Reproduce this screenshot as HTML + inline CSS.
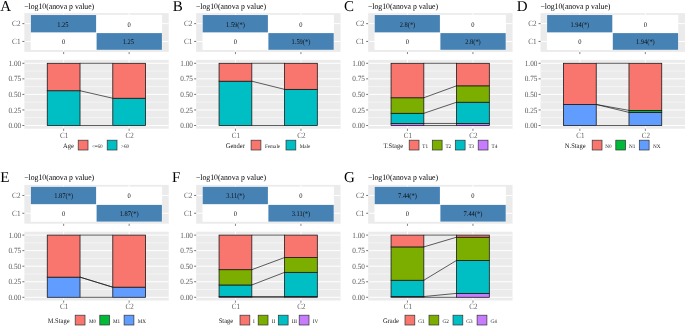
<!DOCTYPE html>
<html><head><meta charset="utf-8"><style>
html,body{margin:0;padding:0;background:#fff;}
svg{display:block;font-family:"Liberation Serif",serif;will-change:transform;text-rendering:geometricPrecision;}
</style></head><body>
<svg width="685" height="326" viewBox="0 0 685 326">
<rect width="685" height="326" fill="#fff"/>
<text x="0.3" y="10.8" font-size="15" fill="#000">A</text>
<text x="24.2" y="8.6" font-size="8.4" fill="#000" textLength="70" lengthAdjust="spacingAndGlyphs">−log10(anova p value)</text>
<rect x="24.35" y="13.1" width="144.4" height="38.8" fill="#EBEBEB"/>
<line x1="63.65" y1="13.1" x2="63.65" y2="51.9" stroke="#fff" stroke-width="1"/>
<line x1="129.15" y1="13.1" x2="129.15" y2="51.9" stroke="#fff" stroke-width="1"/>
<line x1="24.35" y1="23.65" x2="168.75" y2="23.65" stroke="#fff" stroke-width="1"/>
<line x1="24.35" y1="41.45" x2="168.75" y2="41.45" stroke="#fff" stroke-width="1"/>
<rect x="30.7" y="14.85" width="131.4" height="35.15" fill="#fff"/>
<rect x="30.9" y="15.05" width="65.2" height="17.32" fill="#4682B4"/>
<rect x="96.6" y="33.1" width="65.3" height="16.7" fill="#4682B4"/>
<text transform="translate(62.85 26.65) scale(0.91 1)" font-size="7.1" fill="#111" text-anchor="middle">1.25</text>
<text transform="translate(129.15 26.65) scale(0.91 1)" font-size="7.1" fill="#111" text-anchor="middle">0</text>
<text transform="translate(63.65 44.45) scale(0.91 1)" font-size="7.1" fill="#111" text-anchor="middle">0</text>
<text transform="translate(128.35 44.45) scale(0.91 1)" font-size="7.1" fill="#111" text-anchor="middle">1.25</text>
<text transform="translate(20.5 26.4) scale(0.9 1)" font-size="8.0" fill="#5A5A5A" text-anchor="end">C2</text>
<line x1="22.4" y1="23.65" x2="24.35" y2="23.65" stroke="#333333" stroke-width="0.7"/>
<text transform="translate(20.5 44.2) scale(0.9 1)" font-size="8.0" fill="#5A5A5A" text-anchor="end">C1</text>
<line x1="22.4" y1="41.45" x2="24.35" y2="41.45" stroke="#333333" stroke-width="0.7"/>
<line x1="63.65" y1="51.9" x2="63.65" y2="54.1" stroke="#333333" stroke-width="0.6"/>
<line x1="129.15" y1="51.9" x2="129.15" y2="54.1" stroke="#333333" stroke-width="0.6"/>
<rect x="24.35" y="59.9" width="144.4" height="68.8" fill="#EBEBEB"/>
<line x1="24.35" y1="117.72" x2="168.75" y2="117.72" stroke="#fff" stroke-width="0.5"/>
<line x1="24.35" y1="102.17" x2="168.75" y2="102.17" stroke="#fff" stroke-width="0.5"/>
<line x1="24.35" y1="86.62" x2="168.75" y2="86.62" stroke="#fff" stroke-width="0.5"/>
<line x1="24.35" y1="71.07" x2="168.75" y2="71.07" stroke="#fff" stroke-width="0.5"/>
<line x1="24.35" y1="125.5" x2="168.75" y2="125.5" stroke="#fff" stroke-width="1"/>
<line x1="24.35" y1="109.95" x2="168.75" y2="109.95" stroke="#fff" stroke-width="1"/>
<line x1="24.35" y1="94.4" x2="168.75" y2="94.4" stroke="#fff" stroke-width="1"/>
<line x1="24.35" y1="78.85" x2="168.75" y2="78.85" stroke="#fff" stroke-width="1"/>
<line x1="24.35" y1="63.3" x2="168.75" y2="63.3" stroke="#fff" stroke-width="1"/>
<line x1="63.65" y1="59.9" x2="63.65" y2="128.7" stroke="#fff" stroke-width="1"/>
<line x1="129.15" y1="59.9" x2="129.15" y2="128.7" stroke="#fff" stroke-width="1"/>
<rect x="47.27" y="90.73" width="32.75" height="34.77" fill="#00BFC4" stroke="#1a1a1a" stroke-width="0.8"/>
<rect x="47.27" y="63.3" width="32.75" height="27.43" fill="#F8766D" stroke="#1a1a1a" stroke-width="0.8"/>
<rect x="112.78" y="98.26" width="32.75" height="27.24" fill="#00BFC4" stroke="#1a1a1a" stroke-width="0.8"/>
<rect x="112.78" y="63.3" width="32.75" height="34.96" fill="#F8766D" stroke="#1a1a1a" stroke-width="0.8"/>
<line x1="80.03" y1="125.5" x2="112.78" y2="125.5" stroke="#1a1a1a" stroke-width="0.7"/>
<line x1="80.03" y1="90.73" x2="112.78" y2="98.26" stroke="#1a1a1a" stroke-width="0.7"/>
<line x1="80.03" y1="63.3" x2="112.78" y2="63.3" stroke="#1a1a1a" stroke-width="0.7"/>
<text transform="translate(21.2 128.1) scale(0.92 1)" font-size="7.9" fill="#5A5A5A" text-anchor="end">0.00</text>
<line x1="22.4" y1="125.5" x2="24.35" y2="125.5" stroke="#333333" stroke-width="0.7"/>
<text transform="translate(21.2 112.55) scale(0.92 1)" font-size="7.9" fill="#5A5A5A" text-anchor="end">0.25</text>
<line x1="22.4" y1="109.95" x2="24.35" y2="109.95" stroke="#333333" stroke-width="0.7"/>
<text transform="translate(21.2 97) scale(0.92 1)" font-size="7.9" fill="#5A5A5A" text-anchor="end">0.50</text>
<line x1="22.4" y1="94.4" x2="24.35" y2="94.4" stroke="#333333" stroke-width="0.7"/>
<text transform="translate(21.2 81.45) scale(0.92 1)" font-size="7.9" fill="#5A5A5A" text-anchor="end">0.75</text>
<line x1="22.4" y1="78.85" x2="24.35" y2="78.85" stroke="#333333" stroke-width="0.7"/>
<text transform="translate(21.2 65.9) scale(0.92 1)" font-size="7.9" fill="#5A5A5A" text-anchor="end">1.00</text>
<line x1="22.4" y1="63.3" x2="24.35" y2="63.3" stroke="#333333" stroke-width="0.7"/>
<line x1="63.65" y1="128.7" x2="63.65" y2="130.9" stroke="#333333" stroke-width="0.6"/>
<text transform="translate(64.15 137.9) scale(0.88 1)" font-size="8.0" fill="#5A5A5A" text-anchor="middle">C1</text>
<line x1="129.15" y1="128.7" x2="129.15" y2="130.9" stroke="#333333" stroke-width="0.6"/>
<text transform="translate(129.65 137.9) scale(0.88 1)" font-size="8.0" fill="#5A5A5A" text-anchor="middle">C2</text>
<text transform="translate(63.1 147.9) scale(0.93 1)" font-size="7.0" fill="#1a1a1a">Age</text>
<rect x="78.2" y="140.2" width="9.8" height="9.8" fill="#F8766D" stroke="#333" stroke-width="0.7"/>
<text transform="translate(91.7 147.5) scale(0.96 1)" font-size="5.4" fill="#1a1a1a">&lt;=60</text>
<rect x="107.2" y="140.2" width="9.8" height="9.8" fill="#00BFC4" stroke="#333" stroke-width="0.7"/>
<text transform="translate(121.1 147.5) scale(0.96 1)" font-size="5.4" fill="#1a1a1a">&gt;60</text>
<text x="172.8" y="10.8" font-size="15" fill="#000">B</text>
<text x="196" y="8.6" font-size="8.4" fill="#000" textLength="70" lengthAdjust="spacingAndGlyphs">−log10(anova p value)</text>
<rect x="196.15" y="13.1" width="144.4" height="38.8" fill="#EBEBEB"/>
<line x1="235.45" y1="13.1" x2="235.45" y2="51.9" stroke="#fff" stroke-width="1"/>
<line x1="300.95" y1="13.1" x2="300.95" y2="51.9" stroke="#fff" stroke-width="1"/>
<line x1="196.15" y1="23.65" x2="340.55" y2="23.65" stroke="#fff" stroke-width="1"/>
<line x1="196.15" y1="41.45" x2="340.55" y2="41.45" stroke="#fff" stroke-width="1"/>
<rect x="202.5" y="14.85" width="131.4" height="35.15" fill="#fff"/>
<rect x="202.7" y="15.05" width="65.2" height="17.32" fill="#4682B4"/>
<rect x="268.4" y="33.1" width="65.3" height="16.7" fill="#4682B4"/>
<text transform="translate(235.45 26.65) scale(0.91 1)" font-size="7.1" fill="#111" text-anchor="middle">1.59(*)</text>
<text transform="translate(300.95 26.65) scale(0.91 1)" font-size="7.1" fill="#111" text-anchor="middle">0</text>
<text transform="translate(235.45 44.45) scale(0.91 1)" font-size="7.1" fill="#111" text-anchor="middle">0</text>
<text transform="translate(300.95 44.45) scale(0.91 1)" font-size="7.1" fill="#111" text-anchor="middle">1.59(*)</text>
<text transform="translate(192.3 26.4) scale(0.9 1)" font-size="8.0" fill="#5A5A5A" text-anchor="end">C2</text>
<line x1="194.2" y1="23.65" x2="196.15" y2="23.65" stroke="#333333" stroke-width="0.7"/>
<text transform="translate(192.3 44.2) scale(0.9 1)" font-size="8.0" fill="#5A5A5A" text-anchor="end">C1</text>
<line x1="194.2" y1="41.45" x2="196.15" y2="41.45" stroke="#333333" stroke-width="0.7"/>
<line x1="235.45" y1="51.9" x2="235.45" y2="54.1" stroke="#333333" stroke-width="0.6"/>
<line x1="300.95" y1="51.9" x2="300.95" y2="54.1" stroke="#333333" stroke-width="0.6"/>
<rect x="196.15" y="59.9" width="144.4" height="68.8" fill="#EBEBEB"/>
<line x1="196.15" y1="117.72" x2="340.55" y2="117.72" stroke="#fff" stroke-width="0.5"/>
<line x1="196.15" y1="102.17" x2="340.55" y2="102.17" stroke="#fff" stroke-width="0.5"/>
<line x1="196.15" y1="86.62" x2="340.55" y2="86.62" stroke="#fff" stroke-width="0.5"/>
<line x1="196.15" y1="71.07" x2="340.55" y2="71.07" stroke="#fff" stroke-width="0.5"/>
<line x1="196.15" y1="125.5" x2="340.55" y2="125.5" stroke="#fff" stroke-width="1"/>
<line x1="196.15" y1="109.95" x2="340.55" y2="109.95" stroke="#fff" stroke-width="1"/>
<line x1="196.15" y1="94.4" x2="340.55" y2="94.4" stroke="#fff" stroke-width="1"/>
<line x1="196.15" y1="78.85" x2="340.55" y2="78.85" stroke="#fff" stroke-width="1"/>
<line x1="196.15" y1="63.3" x2="340.55" y2="63.3" stroke="#fff" stroke-width="1"/>
<line x1="235.45" y1="59.9" x2="235.45" y2="128.7" stroke="#fff" stroke-width="1"/>
<line x1="300.95" y1="59.9" x2="300.95" y2="128.7" stroke="#fff" stroke-width="1"/>
<rect x="219.07" y="81.21" width="32.75" height="44.29" fill="#00BFC4" stroke="#1a1a1a" stroke-width="0.8"/>
<rect x="219.07" y="63.3" width="32.75" height="17.91" fill="#F8766D" stroke="#1a1a1a" stroke-width="0.8"/>
<rect x="284.57" y="89.36" width="32.75" height="36.14" fill="#00BFC4" stroke="#1a1a1a" stroke-width="0.8"/>
<rect x="284.57" y="63.3" width="32.75" height="26.06" fill="#F8766D" stroke="#1a1a1a" stroke-width="0.8"/>
<line x1="251.82" y1="125.5" x2="284.57" y2="125.5" stroke="#1a1a1a" stroke-width="0.7"/>
<line x1="251.82" y1="81.21" x2="284.57" y2="89.36" stroke="#1a1a1a" stroke-width="0.7"/>
<line x1="251.82" y1="63.3" x2="284.57" y2="63.3" stroke="#1a1a1a" stroke-width="0.7"/>
<text transform="translate(193 128.1) scale(0.92 1)" font-size="7.9" fill="#5A5A5A" text-anchor="end">0.00</text>
<line x1="194.2" y1="125.5" x2="196.15" y2="125.5" stroke="#333333" stroke-width="0.7"/>
<text transform="translate(193 112.55) scale(0.92 1)" font-size="7.9" fill="#5A5A5A" text-anchor="end">0.25</text>
<line x1="194.2" y1="109.95" x2="196.15" y2="109.95" stroke="#333333" stroke-width="0.7"/>
<text transform="translate(193 97) scale(0.92 1)" font-size="7.9" fill="#5A5A5A" text-anchor="end">0.50</text>
<line x1="194.2" y1="94.4" x2="196.15" y2="94.4" stroke="#333333" stroke-width="0.7"/>
<text transform="translate(193 81.45) scale(0.92 1)" font-size="7.9" fill="#5A5A5A" text-anchor="end">0.75</text>
<line x1="194.2" y1="78.85" x2="196.15" y2="78.85" stroke="#333333" stroke-width="0.7"/>
<text transform="translate(193 65.9) scale(0.92 1)" font-size="7.9" fill="#5A5A5A" text-anchor="end">1.00</text>
<line x1="194.2" y1="63.3" x2="196.15" y2="63.3" stroke="#333333" stroke-width="0.7"/>
<line x1="235.45" y1="128.7" x2="235.45" y2="130.9" stroke="#333333" stroke-width="0.6"/>
<text transform="translate(235.95 137.9) scale(0.88 1)" font-size="8.0" fill="#5A5A5A" text-anchor="middle">C1</text>
<line x1="300.95" y1="128.7" x2="300.95" y2="130.9" stroke="#333333" stroke-width="0.6"/>
<text transform="translate(301.45 137.9) scale(0.88 1)" font-size="8.0" fill="#5A5A5A" text-anchor="middle">C2</text>
<text transform="translate(225.7 147.9) scale(0.93 1)" font-size="7.0" fill="#1a1a1a">Gender</text>
<rect x="251.1" y="140.2" width="9.8" height="9.8" fill="#F8766D" stroke="#333" stroke-width="0.7"/>
<text transform="translate(264.9 147.5) scale(0.96 1)" font-size="5.4" fill="#1a1a1a">Female</text>
<rect x="286" y="140.2" width="9.8" height="9.8" fill="#00BFC4" stroke="#333" stroke-width="0.7"/>
<text transform="translate(299.7 147.5) scale(0.96 1)" font-size="5.4" fill="#1a1a1a">Male</text>
<text x="344.1" y="10.8" font-size="15" fill="#000">C</text>
<text x="368" y="8.6" font-size="8.4" fill="#000" textLength="70" lengthAdjust="spacingAndGlyphs">−log10(anova p value)</text>
<rect x="368.15" y="13.1" width="144.4" height="38.8" fill="#EBEBEB"/>
<line x1="407.45" y1="13.1" x2="407.45" y2="51.9" stroke="#fff" stroke-width="1"/>
<line x1="472.95" y1="13.1" x2="472.95" y2="51.9" stroke="#fff" stroke-width="1"/>
<line x1="368.15" y1="23.65" x2="512.55" y2="23.65" stroke="#fff" stroke-width="1"/>
<line x1="368.15" y1="41.45" x2="512.55" y2="41.45" stroke="#fff" stroke-width="1"/>
<rect x="374.5" y="14.85" width="131.4" height="35.15" fill="#fff"/>
<rect x="374.7" y="15.05" width="65.2" height="17.32" fill="#4682B4"/>
<rect x="440.4" y="33.1" width="65.3" height="16.7" fill="#4682B4"/>
<text transform="translate(407.45 26.65) scale(0.91 1)" font-size="7.1" fill="#111" text-anchor="middle">2.8(*)</text>
<text transform="translate(472.95 26.65) scale(0.91 1)" font-size="7.1" fill="#111" text-anchor="middle">0</text>
<text transform="translate(407.45 44.45) scale(0.91 1)" font-size="7.1" fill="#111" text-anchor="middle">0</text>
<text transform="translate(472.95 44.45) scale(0.91 1)" font-size="7.1" fill="#111" text-anchor="middle">2.8(*)</text>
<text transform="translate(364.3 26.4) scale(0.9 1)" font-size="8.0" fill="#5A5A5A" text-anchor="end">C2</text>
<line x1="366.2" y1="23.65" x2="368.15" y2="23.65" stroke="#333333" stroke-width="0.7"/>
<text transform="translate(364.3 44.2) scale(0.9 1)" font-size="8.0" fill="#5A5A5A" text-anchor="end">C1</text>
<line x1="366.2" y1="41.45" x2="368.15" y2="41.45" stroke="#333333" stroke-width="0.7"/>
<line x1="407.45" y1="51.9" x2="407.45" y2="54.1" stroke="#333333" stroke-width="0.6"/>
<line x1="472.95" y1="51.9" x2="472.95" y2="54.1" stroke="#333333" stroke-width="0.6"/>
<rect x="368.15" y="59.9" width="144.4" height="68.8" fill="#EBEBEB"/>
<line x1="368.15" y1="117.72" x2="512.55" y2="117.72" stroke="#fff" stroke-width="0.5"/>
<line x1="368.15" y1="102.17" x2="512.55" y2="102.17" stroke="#fff" stroke-width="0.5"/>
<line x1="368.15" y1="86.62" x2="512.55" y2="86.62" stroke="#fff" stroke-width="0.5"/>
<line x1="368.15" y1="71.07" x2="512.55" y2="71.07" stroke="#fff" stroke-width="0.5"/>
<line x1="368.15" y1="125.5" x2="512.55" y2="125.5" stroke="#fff" stroke-width="1"/>
<line x1="368.15" y1="109.95" x2="512.55" y2="109.95" stroke="#fff" stroke-width="1"/>
<line x1="368.15" y1="94.4" x2="512.55" y2="94.4" stroke="#fff" stroke-width="1"/>
<line x1="368.15" y1="78.85" x2="512.55" y2="78.85" stroke="#fff" stroke-width="1"/>
<line x1="368.15" y1="63.3" x2="512.55" y2="63.3" stroke="#fff" stroke-width="1"/>
<line x1="407.45" y1="59.9" x2="407.45" y2="128.7" stroke="#fff" stroke-width="1"/>
<line x1="472.95" y1="59.9" x2="472.95" y2="128.7" stroke="#fff" stroke-width="1"/>
<rect x="391.07" y="123.45" width="32.75" height="2.05" fill="#C77CFF" stroke="#1a1a1a" stroke-width="0.8"/>
<rect x="391.07" y="113.31" width="32.75" height="10.14" fill="#00BFC4" stroke="#1a1a1a" stroke-width="0.8"/>
<rect x="391.07" y="97.76" width="32.75" height="15.55" fill="#7CAE00" stroke="#1a1a1a" stroke-width="0.8"/>
<rect x="391.07" y="63.3" width="32.75" height="34.46" fill="#F8766D" stroke="#1a1a1a" stroke-width="0.8"/>
<rect x="456.57" y="123.45" width="32.75" height="2.05" fill="#C77CFF" stroke="#1a1a1a" stroke-width="0.8"/>
<rect x="456.57" y="102.24" width="32.75" height="21.21" fill="#00BFC4" stroke="#1a1a1a" stroke-width="0.8"/>
<rect x="456.57" y="85.82" width="32.75" height="16.42" fill="#7CAE00" stroke="#1a1a1a" stroke-width="0.8"/>
<rect x="456.57" y="63.3" width="32.75" height="22.52" fill="#F8766D" stroke="#1a1a1a" stroke-width="0.8"/>
<line x1="423.82" y1="125.5" x2="456.57" y2="125.5" stroke="#1a1a1a" stroke-width="0.7"/>
<line x1="423.82" y1="123.45" x2="456.57" y2="123.45" stroke="#1a1a1a" stroke-width="0.7"/>
<line x1="423.82" y1="113.31" x2="456.57" y2="102.24" stroke="#1a1a1a" stroke-width="0.7"/>
<line x1="423.82" y1="97.76" x2="456.57" y2="85.82" stroke="#1a1a1a" stroke-width="0.7"/>
<line x1="423.82" y1="63.3" x2="456.57" y2="63.3" stroke="#1a1a1a" stroke-width="0.7"/>
<text transform="translate(365 128.1) scale(0.92 1)" font-size="7.9" fill="#5A5A5A" text-anchor="end">0.00</text>
<line x1="366.2" y1="125.5" x2="368.15" y2="125.5" stroke="#333333" stroke-width="0.7"/>
<text transform="translate(365 112.55) scale(0.92 1)" font-size="7.9" fill="#5A5A5A" text-anchor="end">0.25</text>
<line x1="366.2" y1="109.95" x2="368.15" y2="109.95" stroke="#333333" stroke-width="0.7"/>
<text transform="translate(365 97) scale(0.92 1)" font-size="7.9" fill="#5A5A5A" text-anchor="end">0.50</text>
<line x1="366.2" y1="94.4" x2="368.15" y2="94.4" stroke="#333333" stroke-width="0.7"/>
<text transform="translate(365 81.45) scale(0.92 1)" font-size="7.9" fill="#5A5A5A" text-anchor="end">0.75</text>
<line x1="366.2" y1="78.85" x2="368.15" y2="78.85" stroke="#333333" stroke-width="0.7"/>
<text transform="translate(365 65.9) scale(0.92 1)" font-size="7.9" fill="#5A5A5A" text-anchor="end">1.00</text>
<line x1="366.2" y1="63.3" x2="368.15" y2="63.3" stroke="#333333" stroke-width="0.7"/>
<line x1="407.45" y1="128.7" x2="407.45" y2="130.9" stroke="#333333" stroke-width="0.6"/>
<text transform="translate(407.95 137.9) scale(0.88 1)" font-size="8.0" fill="#5A5A5A" text-anchor="middle">C1</text>
<line x1="472.95" y1="128.7" x2="472.95" y2="130.9" stroke="#333333" stroke-width="0.6"/>
<text transform="translate(473.45 137.9) scale(0.88 1)" font-size="8.0" fill="#5A5A5A" text-anchor="middle">C2</text>
<text transform="translate(383.5 147.9) scale(0.93 1)" font-size="7.0" fill="#1a1a1a">T.Stage</text>
<rect x="409.2" y="140.2" width="9.8" height="9.8" fill="#F8766D" stroke="#333" stroke-width="0.7"/>
<text transform="translate(422.3 147.5) scale(0.96 1)" font-size="5.4" fill="#1a1a1a">T1</text>
<rect x="432.3" y="140.2" width="9.8" height="9.8" fill="#7CAE00" stroke="#333" stroke-width="0.7"/>
<text transform="translate(445.4 147.5) scale(0.96 1)" font-size="5.4" fill="#1a1a1a">T2</text>
<rect x="455.3" y="140.2" width="9.8" height="9.8" fill="#00BFC4" stroke="#333" stroke-width="0.7"/>
<text transform="translate(468.4 147.5) scale(0.96 1)" font-size="5.4" fill="#1a1a1a">T3</text>
<rect x="478.2" y="140.2" width="9.8" height="9.8" fill="#C77CFF" stroke="#333" stroke-width="0.7"/>
<text transform="translate(491.6 147.5) scale(0.96 1)" font-size="5.4" fill="#1a1a1a">T4</text>
<text x="516.7" y="10.8" font-size="15" fill="#000">D</text>
<text x="540.4" y="8.6" font-size="8.4" fill="#000" textLength="70" lengthAdjust="spacingAndGlyphs">−log10(anova p value)</text>
<rect x="540.55" y="13.1" width="145.45" height="38.8" fill="#EBEBEB"/>
<line x1="579.85" y1="13.1" x2="579.85" y2="51.9" stroke="#fff" stroke-width="1"/>
<line x1="645.35" y1="13.1" x2="645.35" y2="51.9" stroke="#fff" stroke-width="1"/>
<line x1="540.55" y1="23.65" x2="686" y2="23.65" stroke="#fff" stroke-width="1"/>
<line x1="540.55" y1="41.45" x2="686" y2="41.45" stroke="#fff" stroke-width="1"/>
<rect x="546.9" y="14.85" width="131.4" height="35.15" fill="#fff"/>
<rect x="547.1" y="15.05" width="65.2" height="17.32" fill="#4682B4"/>
<rect x="612.8" y="33.1" width="65.3" height="16.7" fill="#4682B4"/>
<text transform="translate(579.85 26.65) scale(0.91 1)" font-size="7.1" fill="#111" text-anchor="middle">1.94(*)</text>
<text transform="translate(645.35 26.65) scale(0.91 1)" font-size="7.1" fill="#111" text-anchor="middle">0</text>
<text transform="translate(579.85 44.45) scale(0.91 1)" font-size="7.1" fill="#111" text-anchor="middle">0</text>
<text transform="translate(645.35 44.45) scale(0.91 1)" font-size="7.1" fill="#111" text-anchor="middle">1.94(*)</text>
<text transform="translate(536.7 26.4) scale(0.9 1)" font-size="8.0" fill="#5A5A5A" text-anchor="end">C2</text>
<line x1="538.6" y1="23.65" x2="540.55" y2="23.65" stroke="#333333" stroke-width="0.7"/>
<text transform="translate(536.7 44.2) scale(0.9 1)" font-size="8.0" fill="#5A5A5A" text-anchor="end">C1</text>
<line x1="538.6" y1="41.45" x2="540.55" y2="41.45" stroke="#333333" stroke-width="0.7"/>
<line x1="579.85" y1="51.9" x2="579.85" y2="54.1" stroke="#333333" stroke-width="0.6"/>
<line x1="645.35" y1="51.9" x2="645.35" y2="54.1" stroke="#333333" stroke-width="0.6"/>
<rect x="540.55" y="59.9" width="145.45" height="68.8" fill="#EBEBEB"/>
<line x1="540.55" y1="117.72" x2="686" y2="117.72" stroke="#fff" stroke-width="0.5"/>
<line x1="540.55" y1="102.17" x2="686" y2="102.17" stroke="#fff" stroke-width="0.5"/>
<line x1="540.55" y1="86.62" x2="686" y2="86.62" stroke="#fff" stroke-width="0.5"/>
<line x1="540.55" y1="71.07" x2="686" y2="71.07" stroke="#fff" stroke-width="0.5"/>
<line x1="540.55" y1="125.5" x2="686" y2="125.5" stroke="#fff" stroke-width="1"/>
<line x1="540.55" y1="109.95" x2="686" y2="109.95" stroke="#fff" stroke-width="1"/>
<line x1="540.55" y1="94.4" x2="686" y2="94.4" stroke="#fff" stroke-width="1"/>
<line x1="540.55" y1="78.85" x2="686" y2="78.85" stroke="#fff" stroke-width="1"/>
<line x1="540.55" y1="63.3" x2="686" y2="63.3" stroke="#fff" stroke-width="1"/>
<line x1="579.85" y1="59.9" x2="579.85" y2="128.7" stroke="#fff" stroke-width="1"/>
<line x1="645.35" y1="59.9" x2="645.35" y2="128.7" stroke="#fff" stroke-width="1"/>
<rect x="563.48" y="104.48" width="32.75" height="21.02" fill="#619CFF" stroke="#1a1a1a" stroke-width="0.8"/>
<rect x="563.48" y="63.3" width="32.75" height="41.18" fill="#F8766D" stroke="#1a1a1a" stroke-width="0.8"/>
<rect x="628.98" y="112.38" width="32.75" height="13.12" fill="#619CFF" stroke="#1a1a1a" stroke-width="0.8"/>
<rect x="628.98" y="110.39" width="32.75" height="1.99" fill="#00BA38" stroke="#1a1a1a" stroke-width="0.8"/>
<rect x="628.98" y="63.3" width="32.75" height="47.09" fill="#F8766D" stroke="#1a1a1a" stroke-width="0.8"/>
<line x1="596.23" y1="125.5" x2="628.98" y2="125.5" stroke="#1a1a1a" stroke-width="0.7"/>
<line x1="596.23" y1="104.48" x2="628.98" y2="112.38" stroke="#1a1a1a" stroke-width="0.7"/>
<line x1="596.23" y1="104.48" x2="628.98" y2="110.39" stroke="#1a1a1a" stroke-width="0.7"/>
<line x1="596.23" y1="63.3" x2="628.98" y2="63.3" stroke="#1a1a1a" stroke-width="0.7"/>
<text transform="translate(537.4 128.1) scale(0.92 1)" font-size="7.9" fill="#5A5A5A" text-anchor="end">0.00</text>
<line x1="538.6" y1="125.5" x2="540.55" y2="125.5" stroke="#333333" stroke-width="0.7"/>
<text transform="translate(537.4 112.55) scale(0.92 1)" font-size="7.9" fill="#5A5A5A" text-anchor="end">0.25</text>
<line x1="538.6" y1="109.95" x2="540.55" y2="109.95" stroke="#333333" stroke-width="0.7"/>
<text transform="translate(537.4 97) scale(0.92 1)" font-size="7.9" fill="#5A5A5A" text-anchor="end">0.50</text>
<line x1="538.6" y1="94.4" x2="540.55" y2="94.4" stroke="#333333" stroke-width="0.7"/>
<text transform="translate(537.4 81.45) scale(0.92 1)" font-size="7.9" fill="#5A5A5A" text-anchor="end">0.75</text>
<line x1="538.6" y1="78.85" x2="540.55" y2="78.85" stroke="#333333" stroke-width="0.7"/>
<text transform="translate(537.4 65.9) scale(0.92 1)" font-size="7.9" fill="#5A5A5A" text-anchor="end">1.00</text>
<line x1="538.6" y1="63.3" x2="540.55" y2="63.3" stroke="#333333" stroke-width="0.7"/>
<line x1="579.85" y1="128.7" x2="579.85" y2="130.9" stroke="#333333" stroke-width="0.6"/>
<text transform="translate(580.35 137.9) scale(0.88 1)" font-size="8.0" fill="#5A5A5A" text-anchor="middle">C1</text>
<line x1="645.35" y1="128.7" x2="645.35" y2="130.9" stroke="#333333" stroke-width="0.6"/>
<text transform="translate(645.85 137.9) scale(0.88 1)" font-size="8.0" fill="#5A5A5A" text-anchor="middle">C2</text>
<text transform="translate(564.8 147.9) scale(0.93 1)" font-size="7.0" fill="#1a1a1a">N.Stage</text>
<rect x="592.2" y="140.2" width="9.8" height="9.8" fill="#F8766D" stroke="#333" stroke-width="0.7"/>
<text transform="translate(605.3 147.5) scale(0.96 1)" font-size="5.4" fill="#1a1a1a">N0</text>
<rect x="615.8" y="140.2" width="9.8" height="9.8" fill="#00BA38" stroke="#333" stroke-width="0.7"/>
<text transform="translate(629 147.5) scale(0.96 1)" font-size="5.4" fill="#1a1a1a">N1</text>
<rect x="639.3" y="140.2" width="9.8" height="9.8" fill="#619CFF" stroke="#333" stroke-width="0.7"/>
<text transform="translate(653 147.5) scale(0.96 1)" font-size="5.4" fill="#1a1a1a">NX</text>
<text x="0.3" y="182.2" font-size="15" fill="#000">E</text>
<text x="24.2" y="180.4" font-size="8.4" fill="#000" textLength="70" lengthAdjust="spacingAndGlyphs">−log10(anova p value)</text>
<rect x="24.35" y="184.9" width="144.4" height="38.8" fill="#EBEBEB"/>
<line x1="63.65" y1="184.9" x2="63.65" y2="223.7" stroke="#fff" stroke-width="1"/>
<line x1="129.15" y1="184.9" x2="129.15" y2="223.7" stroke="#fff" stroke-width="1"/>
<line x1="24.35" y1="195.45" x2="168.75" y2="195.45" stroke="#fff" stroke-width="1"/>
<line x1="24.35" y1="213.25" x2="168.75" y2="213.25" stroke="#fff" stroke-width="1"/>
<rect x="30.7" y="186.65" width="131.4" height="35.15" fill="#fff"/>
<rect x="30.9" y="186.85" width="65.2" height="17.32" fill="#4682B4"/>
<rect x="96.6" y="204.9" width="65.3" height="16.7" fill="#4682B4"/>
<text transform="translate(63.65 198.45) scale(0.91 1)" font-size="7.1" fill="#111" text-anchor="middle">1.87(*)</text>
<text transform="translate(129.15 198.45) scale(0.91 1)" font-size="7.1" fill="#111" text-anchor="middle">0</text>
<text transform="translate(63.65 216.25) scale(0.91 1)" font-size="7.1" fill="#111" text-anchor="middle">0</text>
<text transform="translate(129.15 216.25) scale(0.91 1)" font-size="7.1" fill="#111" text-anchor="middle">1.87(*)</text>
<text transform="translate(20.5 198.2) scale(0.9 1)" font-size="8.0" fill="#5A5A5A" text-anchor="end">C2</text>
<line x1="22.4" y1="195.45" x2="24.35" y2="195.45" stroke="#333333" stroke-width="0.7"/>
<text transform="translate(20.5 216) scale(0.9 1)" font-size="8.0" fill="#5A5A5A" text-anchor="end">C1</text>
<line x1="22.4" y1="213.25" x2="24.35" y2="213.25" stroke="#333333" stroke-width="0.7"/>
<line x1="63.65" y1="223.7" x2="63.65" y2="225.9" stroke="#333333" stroke-width="0.6"/>
<line x1="129.15" y1="223.7" x2="129.15" y2="225.9" stroke="#333333" stroke-width="0.6"/>
<rect x="24.35" y="231.7" width="144.4" height="68.8" fill="#EBEBEB"/>
<line x1="24.35" y1="289.53" x2="168.75" y2="289.53" stroke="#fff" stroke-width="0.5"/>
<line x1="24.35" y1="273.98" x2="168.75" y2="273.98" stroke="#fff" stroke-width="0.5"/>
<line x1="24.35" y1="258.43" x2="168.75" y2="258.43" stroke="#fff" stroke-width="0.5"/>
<line x1="24.35" y1="242.88" x2="168.75" y2="242.88" stroke="#fff" stroke-width="0.5"/>
<line x1="24.35" y1="297.3" x2="168.75" y2="297.3" stroke="#fff" stroke-width="1"/>
<line x1="24.35" y1="281.75" x2="168.75" y2="281.75" stroke="#fff" stroke-width="1"/>
<line x1="24.35" y1="266.2" x2="168.75" y2="266.2" stroke="#fff" stroke-width="1"/>
<line x1="24.35" y1="250.65" x2="168.75" y2="250.65" stroke="#fff" stroke-width="1"/>
<line x1="24.35" y1="235.1" x2="168.75" y2="235.1" stroke="#fff" stroke-width="1"/>
<line x1="63.65" y1="231.7" x2="63.65" y2="300.5" stroke="#fff" stroke-width="1"/>
<line x1="129.15" y1="231.7" x2="129.15" y2="300.5" stroke="#fff" stroke-width="1"/>
<rect x="47.27" y="277.15" width="32.75" height="20.15" fill="#619CFF" stroke="#1a1a1a" stroke-width="0.8"/>
<rect x="47.27" y="235.1" width="32.75" height="42.05" fill="#F8766D" stroke="#1a1a1a" stroke-width="0.8"/>
<rect x="112.78" y="287.16" width="32.75" height="10.14" fill="#619CFF" stroke="#1a1a1a" stroke-width="0.8"/>
<rect x="112.78" y="235.1" width="32.75" height="52.06" fill="#F8766D" stroke="#1a1a1a" stroke-width="0.8"/>
<line x1="80.03" y1="297.3" x2="112.78" y2="297.3" stroke="#1a1a1a" stroke-width="0.7"/>
<line x1="80.03" y1="277.15" x2="112.78" y2="287.16" stroke="#1a1a1a" stroke-width="0.7"/>
<line x1="80.03" y1="277.15" x2="112.78" y2="287.16" stroke="#1a1a1a" stroke-width="0.7"/>
<line x1="80.03" y1="235.1" x2="112.78" y2="235.1" stroke="#1a1a1a" stroke-width="0.7"/>
<text transform="translate(21.2 299.9) scale(0.92 1)" font-size="7.9" fill="#5A5A5A" text-anchor="end">0.00</text>
<line x1="22.4" y1="297.3" x2="24.35" y2="297.3" stroke="#333333" stroke-width="0.7"/>
<text transform="translate(21.2 284.35) scale(0.92 1)" font-size="7.9" fill="#5A5A5A" text-anchor="end">0.25</text>
<line x1="22.4" y1="281.75" x2="24.35" y2="281.75" stroke="#333333" stroke-width="0.7"/>
<text transform="translate(21.2 268.8) scale(0.92 1)" font-size="7.9" fill="#5A5A5A" text-anchor="end">0.50</text>
<line x1="22.4" y1="266.2" x2="24.35" y2="266.2" stroke="#333333" stroke-width="0.7"/>
<text transform="translate(21.2 253.25) scale(0.92 1)" font-size="7.9" fill="#5A5A5A" text-anchor="end">0.75</text>
<line x1="22.4" y1="250.65" x2="24.35" y2="250.65" stroke="#333333" stroke-width="0.7"/>
<text transform="translate(21.2 237.7) scale(0.92 1)" font-size="7.9" fill="#5A5A5A" text-anchor="end">1.00</text>
<line x1="22.4" y1="235.1" x2="24.35" y2="235.1" stroke="#333333" stroke-width="0.7"/>
<line x1="63.65" y1="300.5" x2="63.65" y2="302.7" stroke="#333333" stroke-width="0.6"/>
<text transform="translate(64.15 309.3) scale(0.88 1)" font-size="8.0" fill="#5A5A5A" text-anchor="middle">C1</text>
<line x1="129.15" y1="300.5" x2="129.15" y2="302.7" stroke="#333333" stroke-width="0.6"/>
<text transform="translate(129.65 309.3) scale(0.88 1)" font-size="8.0" fill="#5A5A5A" text-anchor="middle">C2</text>
<text transform="translate(47.7 322.9) scale(0.93 1)" font-size="7.0" fill="#1a1a1a">M.Stage</text>
<rect x="75.2" y="315.2" width="9.8" height="9.8" fill="#F8766D" stroke="#333" stroke-width="0.7"/>
<text transform="translate(88.9 322.5) scale(0.96 1)" font-size="5.4" fill="#1a1a1a">M0</text>
<rect x="99.8" y="315.2" width="9.8" height="9.8" fill="#00BA38" stroke="#333" stroke-width="0.7"/>
<text transform="translate(113 322.5) scale(0.96 1)" font-size="5.4" fill="#1a1a1a">M1</text>
<rect x="124.1" y="315.2" width="9.8" height="9.8" fill="#619CFF" stroke="#333" stroke-width="0.7"/>
<text transform="translate(137.7 322.5) scale(0.96 1)" font-size="5.4" fill="#1a1a1a">MX</text>
<text x="172.1" y="182.2" font-size="15" fill="#000">F</text>
<text x="196" y="180.4" font-size="8.4" fill="#000" textLength="70" lengthAdjust="spacingAndGlyphs">−log10(anova p value)</text>
<rect x="196.15" y="184.9" width="144.4" height="38.8" fill="#EBEBEB"/>
<line x1="235.45" y1="184.9" x2="235.45" y2="223.7" stroke="#fff" stroke-width="1"/>
<line x1="300.95" y1="184.9" x2="300.95" y2="223.7" stroke="#fff" stroke-width="1"/>
<line x1="196.15" y1="195.45" x2="340.55" y2="195.45" stroke="#fff" stroke-width="1"/>
<line x1="196.15" y1="213.25" x2="340.55" y2="213.25" stroke="#fff" stroke-width="1"/>
<rect x="202.5" y="186.65" width="131.4" height="35.15" fill="#fff"/>
<rect x="202.7" y="186.85" width="65.2" height="17.32" fill="#4682B4"/>
<rect x="268.4" y="204.9" width="65.3" height="16.7" fill="#4682B4"/>
<text transform="translate(235.45 198.45) scale(0.91 1)" font-size="7.1" fill="#111" text-anchor="middle">3.11(*)</text>
<text transform="translate(300.95 198.45) scale(0.91 1)" font-size="7.1" fill="#111" text-anchor="middle">0</text>
<text transform="translate(235.45 216.25) scale(0.91 1)" font-size="7.1" fill="#111" text-anchor="middle">0</text>
<text transform="translate(300.95 216.25) scale(0.91 1)" font-size="7.1" fill="#111" text-anchor="middle">3.11(*)</text>
<text transform="translate(192.3 198.2) scale(0.9 1)" font-size="8.0" fill="#5A5A5A" text-anchor="end">C2</text>
<line x1="194.2" y1="195.45" x2="196.15" y2="195.45" stroke="#333333" stroke-width="0.7"/>
<text transform="translate(192.3 216) scale(0.9 1)" font-size="8.0" fill="#5A5A5A" text-anchor="end">C1</text>
<line x1="194.2" y1="213.25" x2="196.15" y2="213.25" stroke="#333333" stroke-width="0.7"/>
<line x1="235.45" y1="223.7" x2="235.45" y2="225.9" stroke="#333333" stroke-width="0.6"/>
<line x1="300.95" y1="223.7" x2="300.95" y2="225.9" stroke="#333333" stroke-width="0.6"/>
<rect x="196.15" y="231.7" width="144.4" height="68.8" fill="#EBEBEB"/>
<line x1="196.15" y1="289.53" x2="340.55" y2="289.53" stroke="#fff" stroke-width="0.5"/>
<line x1="196.15" y1="273.98" x2="340.55" y2="273.98" stroke="#fff" stroke-width="0.5"/>
<line x1="196.15" y1="258.43" x2="340.55" y2="258.43" stroke="#fff" stroke-width="0.5"/>
<line x1="196.15" y1="242.88" x2="340.55" y2="242.88" stroke="#fff" stroke-width="0.5"/>
<line x1="196.15" y1="297.3" x2="340.55" y2="297.3" stroke="#fff" stroke-width="1"/>
<line x1="196.15" y1="281.75" x2="340.55" y2="281.75" stroke="#fff" stroke-width="1"/>
<line x1="196.15" y1="266.2" x2="340.55" y2="266.2" stroke="#fff" stroke-width="1"/>
<line x1="196.15" y1="250.65" x2="340.55" y2="250.65" stroke="#fff" stroke-width="1"/>
<line x1="196.15" y1="235.1" x2="340.55" y2="235.1" stroke="#fff" stroke-width="1"/>
<line x1="235.45" y1="231.7" x2="235.45" y2="300.5" stroke="#fff" stroke-width="1"/>
<line x1="300.95" y1="231.7" x2="300.95" y2="300.5" stroke="#fff" stroke-width="1"/>
<rect x="219.07" y="296.55" width="32.75" height="0.75" fill="#C77CFF" stroke="#1a1a1a" stroke-width="0.8"/>
<rect x="219.07" y="284.98" width="32.75" height="11.57" fill="#00BFC4" stroke="#1a1a1a" stroke-width="0.8"/>
<rect x="219.07" y="269.68" width="32.75" height="15.3" fill="#7CAE00" stroke="#1a1a1a" stroke-width="0.8"/>
<rect x="219.07" y="235.1" width="32.75" height="34.58" fill="#F8766D" stroke="#1a1a1a" stroke-width="0.8"/>
<rect x="284.57" y="296.55" width="32.75" height="0.75" fill="#C77CFF" stroke="#1a1a1a" stroke-width="0.8"/>
<rect x="284.57" y="272.36" width="32.75" height="24.2" fill="#00BFC4" stroke="#1a1a1a" stroke-width="0.8"/>
<rect x="284.57" y="257.55" width="32.75" height="14.8" fill="#7CAE00" stroke="#1a1a1a" stroke-width="0.8"/>
<rect x="284.57" y="235.1" width="32.75" height="22.45" fill="#F8766D" stroke="#1a1a1a" stroke-width="0.8"/>
<line x1="251.82" y1="297.3" x2="284.57" y2="297.3" stroke="#1a1a1a" stroke-width="0.7"/>
<line x1="251.82" y1="296.55" x2="284.57" y2="296.55" stroke="#1a1a1a" stroke-width="0.7"/>
<line x1="251.82" y1="284.98" x2="284.57" y2="272.36" stroke="#1a1a1a" stroke-width="0.7"/>
<line x1="251.82" y1="269.68" x2="284.57" y2="257.55" stroke="#1a1a1a" stroke-width="0.7"/>
<line x1="251.82" y1="235.1" x2="284.57" y2="235.1" stroke="#1a1a1a" stroke-width="0.7"/>
<text transform="translate(193 299.9) scale(0.92 1)" font-size="7.9" fill="#5A5A5A" text-anchor="end">0.00</text>
<line x1="194.2" y1="297.3" x2="196.15" y2="297.3" stroke="#333333" stroke-width="0.7"/>
<text transform="translate(193 284.35) scale(0.92 1)" font-size="7.9" fill="#5A5A5A" text-anchor="end">0.25</text>
<line x1="194.2" y1="281.75" x2="196.15" y2="281.75" stroke="#333333" stroke-width="0.7"/>
<text transform="translate(193 268.8) scale(0.92 1)" font-size="7.9" fill="#5A5A5A" text-anchor="end">0.50</text>
<line x1="194.2" y1="266.2" x2="196.15" y2="266.2" stroke="#333333" stroke-width="0.7"/>
<text transform="translate(193 253.25) scale(0.92 1)" font-size="7.9" fill="#5A5A5A" text-anchor="end">0.75</text>
<line x1="194.2" y1="250.65" x2="196.15" y2="250.65" stroke="#333333" stroke-width="0.7"/>
<text transform="translate(193 237.7) scale(0.92 1)" font-size="7.9" fill="#5A5A5A" text-anchor="end">1.00</text>
<line x1="194.2" y1="235.1" x2="196.15" y2="235.1" stroke="#333333" stroke-width="0.7"/>
<line x1="235.45" y1="300.5" x2="235.45" y2="302.7" stroke="#333333" stroke-width="0.6"/>
<text transform="translate(235.95 309.3) scale(0.88 1)" font-size="8.0" fill="#5A5A5A" text-anchor="middle">C1</text>
<line x1="300.95" y1="300.5" x2="300.95" y2="302.7" stroke="#333333" stroke-width="0.6"/>
<text transform="translate(301.45 309.3) scale(0.88 1)" font-size="8.0" fill="#5A5A5A" text-anchor="middle">C2</text>
<text transform="translate(218.7 322.9) scale(0.93 1)" font-size="7.0" fill="#1a1a1a">Stage</text>
<rect x="240" y="315.2" width="9.8" height="9.8" fill="#F8766D" stroke="#333" stroke-width="0.7"/>
<text transform="translate(253.1 322.5) scale(0.96 1)" font-size="5.4" fill="#1a1a1a">I</text>
<rect x="258.2" y="315.2" width="9.8" height="9.8" fill="#7CAE00" stroke="#333" stroke-width="0.7"/>
<text transform="translate(271.8 322.5) scale(0.96 1)" font-size="5.4" fill="#1a1a1a">II</text>
<rect x="278.3" y="315.2" width="9.8" height="9.8" fill="#00BFC4" stroke="#333" stroke-width="0.7"/>
<text transform="translate(291.8 322.5) scale(0.96 1)" font-size="5.4" fill="#1a1a1a">III</text>
<rect x="299.2" y="315.2" width="9.8" height="9.8" fill="#C77CFF" stroke="#333" stroke-width="0.7"/>
<text transform="translate(312.8 322.5) scale(0.96 1)" font-size="5.4" fill="#1a1a1a">IV</text>
<text x="344.1" y="182.2" font-size="15" fill="#000">G</text>
<text x="368" y="180.4" font-size="8.4" fill="#000" textLength="70" lengthAdjust="spacingAndGlyphs">−log10(anova p value)</text>
<rect x="368.15" y="184.9" width="144.4" height="38.8" fill="#EBEBEB"/>
<line x1="407.45" y1="184.9" x2="407.45" y2="223.7" stroke="#fff" stroke-width="1"/>
<line x1="472.95" y1="184.9" x2="472.95" y2="223.7" stroke="#fff" stroke-width="1"/>
<line x1="368.15" y1="195.45" x2="512.55" y2="195.45" stroke="#fff" stroke-width="1"/>
<line x1="368.15" y1="213.25" x2="512.55" y2="213.25" stroke="#fff" stroke-width="1"/>
<rect x="374.5" y="186.65" width="131.4" height="35.15" fill="#fff"/>
<rect x="374.7" y="186.85" width="65.2" height="17.32" fill="#4682B4"/>
<rect x="440.4" y="204.9" width="65.3" height="16.7" fill="#4682B4"/>
<text transform="translate(407.45 198.45) scale(0.91 1)" font-size="7.1" fill="#111" text-anchor="middle">7.44(*)</text>
<text transform="translate(472.95 198.45) scale(0.91 1)" font-size="7.1" fill="#111" text-anchor="middle">0</text>
<text transform="translate(407.45 216.25) scale(0.91 1)" font-size="7.1" fill="#111" text-anchor="middle">0</text>
<text transform="translate(472.95 216.25) scale(0.91 1)" font-size="7.1" fill="#111" text-anchor="middle">7.44(*)</text>
<text transform="translate(364.3 198.2) scale(0.9 1)" font-size="8.0" fill="#5A5A5A" text-anchor="end">C2</text>
<line x1="366.2" y1="195.45" x2="368.15" y2="195.45" stroke="#333333" stroke-width="0.7"/>
<text transform="translate(364.3 216) scale(0.9 1)" font-size="8.0" fill="#5A5A5A" text-anchor="end">C1</text>
<line x1="366.2" y1="213.25" x2="368.15" y2="213.25" stroke="#333333" stroke-width="0.7"/>
<line x1="407.45" y1="223.7" x2="407.45" y2="225.9" stroke="#333333" stroke-width="0.6"/>
<line x1="472.95" y1="223.7" x2="472.95" y2="225.9" stroke="#333333" stroke-width="0.6"/>
<rect x="368.15" y="231.7" width="144.4" height="68.8" fill="#EBEBEB"/>
<line x1="368.15" y1="289.53" x2="512.55" y2="289.53" stroke="#fff" stroke-width="0.5"/>
<line x1="368.15" y1="273.98" x2="512.55" y2="273.98" stroke="#fff" stroke-width="0.5"/>
<line x1="368.15" y1="258.43" x2="512.55" y2="258.43" stroke="#fff" stroke-width="0.5"/>
<line x1="368.15" y1="242.88" x2="512.55" y2="242.88" stroke="#fff" stroke-width="0.5"/>
<line x1="368.15" y1="297.3" x2="512.55" y2="297.3" stroke="#fff" stroke-width="1"/>
<line x1="368.15" y1="281.75" x2="512.55" y2="281.75" stroke="#fff" stroke-width="1"/>
<line x1="368.15" y1="266.2" x2="512.55" y2="266.2" stroke="#fff" stroke-width="1"/>
<line x1="368.15" y1="250.65" x2="512.55" y2="250.65" stroke="#fff" stroke-width="1"/>
<line x1="368.15" y1="235.1" x2="512.55" y2="235.1" stroke="#fff" stroke-width="1"/>
<line x1="407.45" y1="231.7" x2="407.45" y2="300.5" stroke="#fff" stroke-width="1"/>
<line x1="472.95" y1="231.7" x2="472.95" y2="300.5" stroke="#fff" stroke-width="1"/>
<rect x="391.07" y="296.55" width="32.75" height="0.75" fill="#C77CFF" stroke="#1a1a1a" stroke-width="0.8"/>
<rect x="391.07" y="280.26" width="32.75" height="16.3" fill="#00BFC4" stroke="#1a1a1a" stroke-width="0.8"/>
<rect x="391.07" y="246.92" width="32.75" height="33.34" fill="#7CAE00" stroke="#1a1a1a" stroke-width="0.8"/>
<rect x="391.07" y="235.1" width="32.75" height="11.82" fill="#F8766D" stroke="#1a1a1a" stroke-width="0.8"/>
<rect x="456.57" y="293.38" width="32.75" height="3.92" fill="#C77CFF" stroke="#1a1a1a" stroke-width="0.8"/>
<rect x="456.57" y="260.42" width="32.75" height="32.97" fill="#00BFC4" stroke="#1a1a1a" stroke-width="0.8"/>
<rect x="456.57" y="237.21" width="32.75" height="23.2" fill="#7CAE00" stroke="#1a1a1a" stroke-width="0.8"/>
<rect x="456.57" y="235.1" width="32.75" height="2.11" fill="#F8766D" stroke="#1a1a1a" stroke-width="0.8"/>
<line x1="423.82" y1="297.3" x2="456.57" y2="297.3" stroke="#1a1a1a" stroke-width="0.7"/>
<line x1="423.82" y1="296.55" x2="456.57" y2="293.38" stroke="#1a1a1a" stroke-width="0.7"/>
<line x1="423.82" y1="280.26" x2="456.57" y2="260.42" stroke="#1a1a1a" stroke-width="0.7"/>
<line x1="423.82" y1="246.92" x2="456.57" y2="237.21" stroke="#1a1a1a" stroke-width="0.7"/>
<line x1="423.82" y1="235.1" x2="456.57" y2="235.1" stroke="#1a1a1a" stroke-width="0.7"/>
<text transform="translate(365 299.9) scale(0.92 1)" font-size="7.9" fill="#5A5A5A" text-anchor="end">0.00</text>
<line x1="366.2" y1="297.3" x2="368.15" y2="297.3" stroke="#333333" stroke-width="0.7"/>
<text transform="translate(365 284.35) scale(0.92 1)" font-size="7.9" fill="#5A5A5A" text-anchor="end">0.25</text>
<line x1="366.2" y1="281.75" x2="368.15" y2="281.75" stroke="#333333" stroke-width="0.7"/>
<text transform="translate(365 268.8) scale(0.92 1)" font-size="7.9" fill="#5A5A5A" text-anchor="end">0.50</text>
<line x1="366.2" y1="266.2" x2="368.15" y2="266.2" stroke="#333333" stroke-width="0.7"/>
<text transform="translate(365 253.25) scale(0.92 1)" font-size="7.9" fill="#5A5A5A" text-anchor="end">0.75</text>
<line x1="366.2" y1="250.65" x2="368.15" y2="250.65" stroke="#333333" stroke-width="0.7"/>
<text transform="translate(365 237.7) scale(0.92 1)" font-size="7.9" fill="#5A5A5A" text-anchor="end">1.00</text>
<line x1="366.2" y1="235.1" x2="368.15" y2="235.1" stroke="#333333" stroke-width="0.7"/>
<line x1="407.45" y1="300.5" x2="407.45" y2="302.7" stroke="#333333" stroke-width="0.6"/>
<text transform="translate(407.95 309.3) scale(0.88 1)" font-size="8.0" fill="#5A5A5A" text-anchor="middle">C1</text>
<line x1="472.95" y1="300.5" x2="472.95" y2="302.7" stroke="#333333" stroke-width="0.6"/>
<text transform="translate(473.45 309.3) scale(0.88 1)" font-size="8.0" fill="#5A5A5A" text-anchor="middle">C2</text>
<text transform="translate(382.9 322.9) scale(0.93 1)" font-size="7.0" fill="#1a1a1a">Grade</text>
<rect x="405" y="315.2" width="9.8" height="9.8" fill="#F8766D" stroke="#333" stroke-width="0.7"/>
<text transform="translate(418.3 322.5) scale(0.96 1)" font-size="5.4" fill="#1a1a1a">G1</text>
<rect x="429" y="315.2" width="9.8" height="9.8" fill="#7CAE00" stroke="#333" stroke-width="0.7"/>
<text transform="translate(442.5 322.5) scale(0.96 1)" font-size="5.4" fill="#1a1a1a">G2</text>
<rect x="453" y="315.2" width="9.8" height="9.8" fill="#00BFC4" stroke="#333" stroke-width="0.7"/>
<text transform="translate(466.3 322.5) scale(0.96 1)" font-size="5.4" fill="#1a1a1a">G3</text>
<rect x="477.1" y="315.2" width="9.8" height="9.8" fill="#C77CFF" stroke="#333" stroke-width="0.7"/>
<text transform="translate(490.4 322.5) scale(0.96 1)" font-size="5.4" fill="#1a1a1a">G4</text>
</svg>
</body></html>
